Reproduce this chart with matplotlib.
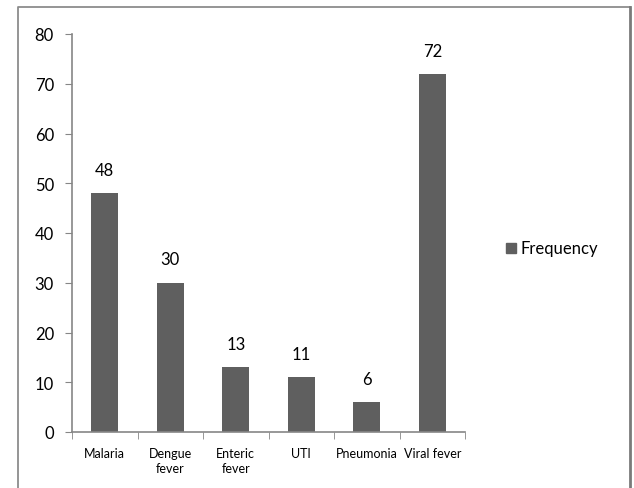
import matplotlib.pyplot as plt
import matplotlib.patches as patches
import numpy as np

categories = ["Malaria", "Dengue\nfever", "Enteric\nfever", "UTI", "Pneumonia", "Viral fever"]
frequency = [48, 30, 13, 11, 6, 72]
series_name = "Frequency"

bar_color = "#5f5f5f"
axis_color = "#868686"

plt.rcParams['font.family'] = ['Lato', 'DejaVu Sans']

W, H = 634, 489
fig = plt.figure(figsize=(W / 100, H / 100), dpi=100)

# background layer for the outer chart frame (open at the bottom)
bg = fig.add_axes([0, 0, 1, 1], zorder=-1)
bg.set_xlim(0, W)
bg.set_ylim(H, 0)
bg.axis("off")
bg.plot([18, 18, 630], [H + 5, 8, 8], color="#8c8c8c", lw=1.3)
bg.plot([630, 630], [8, H + 5], color="#7a7a7a", lw=2)

ax = fig.add_axes([72 / W, 1 - 433 / H, (465 - 72) / W, (433 - 35) / H])
ax.patch.set_alpha(0)

x = np.arange(len(categories))
bars = ax.bar(x, frequency, width=0.41, color=bar_color, zorder=2)
for b, v in zip(bars, frequency):
    ax.annotate(str(v), (b.get_x() + b.get_width() / 2, v), xytext=(0, 11),
                textcoords="offset points", ha="center", va="bottom", fontsize=12)

ax.set_xlim(-0.5, len(categories) - 0.5)
ax.set_ylim(0, 80)
ax.set_yticks(range(0, 81, 10))
ax.tick_params(axis="y", labelsize=12, length=5, color=axis_color, pad=8)

# category labels in the middle, tick marks on the boundaries
ax.set_xticks(x)
ax.set_xticklabels(categories, fontsize=9, linespacing=1.3)
ax.tick_params(axis="x", which="major", length=0, pad=11)
ax.set_xticks(np.arange(-0.5, len(categories)), minor=True)
ax.tick_params(axis="x", which="minor", length=5, color=axis_color)

for s in ["top", "right"]:
    ax.spines[s].set_visible(False)
for s in ["left", "bottom"]:
    ax.spines[s].set_color(axis_color)
    ax.spines[s].set_linewidth(1.2)

# legend: one square marker and the series name
bg.add_patch(patches.Rectangle((506, 244), 10, 10, color=bar_color))
bg.text(521, 249, series_name, fontsize=12, va="center", ha="left")

fig.savefig("out.png", dpi=100, facecolor="white")
